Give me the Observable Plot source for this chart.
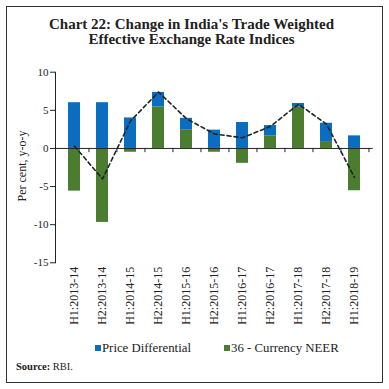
<!DOCTYPE html>
<html><head><meta charset="utf-8">
<script src="https://cdn.jsdelivr.net/npm/d3@7"></script>
<script src="https://cdn.jsdelivr.net/npm/@observablehq/plot@0.6"></script>
<style>
html,body{margin:0;padding:0;background:#fff;}
body{width:389px;height:389px;position:relative;overflow:hidden;font-family:"Liberation Serif",serif;color:#222;}
#frame{position:absolute;left:6px;top:6px;width:377px;height:377px;border:1px solid #333;box-sizing:border-box;}
#title{position:absolute;left:0;width:383px;top:17px;text-align:center;font-weight:bold;font-size:15px;line-height:15.2px;}
#chart{position:absolute;left:0;top:0;}
#ylab{position:absolute;left:22px;top:166px;transform:translate(-50%,-50%) rotate(-90deg);font-size:12px;white-space:nowrap;}
.leg{position:absolute;top:341px;font-size:12.8px;white-space:nowrap;line-height:15px;}
.sw{display:inline-block;width:6px;height:6px;margin-right:1px;vertical-align:1px;}
#source{position:absolute;left:16px;top:361px;font-size:10.5px;}
</style></head>
<body>
<div id="frame"></div>
<div id="title">Chart 22: Change in India's Trade Weighted<br>Effective Exchange Rate Indices</div>
<div id="chart"></div>
<div id="ylab">Per cent, y-o-y</div>
<div class="leg" style="left:95px"><span class="sw" style="background:#0b6dbf"></span>Price Differential</div>
<div class="leg" style="left:224px"><span class="sw" style="background:#4a7d2f"></span>36 - Currency NEER</div>
<div id="source"><b>Source:</b> RBI.</div>
<script>
const categories = ["H1:2013-14","H2:2013-14","H1:2014-15","H2:2014-15","H1:2015-16","H2:2015-16","H1:2016-17","H2:2016-17","H1:2017-18","H2:2017-18","H1:2018-19"];
const priceDiff = [6.0, 6.0, 4.0, 1.9, 1.5, 2.4, 3.4, 1.35, 0.5, 2.4, 1.65];
const neer = [-5.6, -9.7, -0.5, 5.45, 2.45, -0.5, -1.95, 1.65, 5.4, 0.9, -5.55];
const reer = [0.3, -4.0, 3.6, 7.4, 3.9, 1.9, 1.4, 2.9, 5.8, 3.2, -3.8];
const seriesNames = ["36 - Currency NEER", "Price Differential"];
const seriesColors = ["#4a7d2f", "#0b6dbf"];
const yTicks = [-15, -10, -5, 0, 5, 10];

const rows = [
  ...categories.map((c, i) => ({cat: c, series: seriesNames[0], value: neer[i]})),
  ...categories.map((c, i) => ({cat: c, series: seriesNames[1], value: priceDiff[i]}))
];
const lineData = categories.map((c, i) => ({cat: c, value: reer[i]}));

const W = 389, H = 389, mL = 55, mR = 16.3, mT = 71.7, mB = 126.7;
const step = (W - mL - mR) / categories.length;

const chart = Plot.plot({
  width: W, height: H,
  marginLeft: mL, marginRight: mR, marginTop: mT, marginBottom: mB,
  x: {domain: categories, paddingInner: 0.58, paddingOuter: 0.29, label: null},
  y: {domain: [-15, 10], label: null},
  color: {domain: seriesNames, range: seriesColors},
  style: {fontFamily: "Liberation Serif, serif", fontSize: "11px", color: "#222", background: "transparent"},
  marks: [
    Plot.barY(rows, {x: "cat", y: "value", fill: "series"}),
    Plot.ruleY([0], {stroke: "#222"}),
    Plot.ruleX(categories, {x: d => d, dx: step / 2, y1: 0, y2: -0.55, stroke: "#222"}),
    Plot.frame({anchor: "left", stroke: "#222"}),
    Plot.axisY({ticks: yTicks, tickSize: 5, tickPadding: 2, tickFormat: d => String(d), label: null}),
    Plot.axisX({tickRotate: -90, tickSize: 0, tickPadding: 4, label: null, fontSize: 12}),
    Plot.line(lineData, {x: "cat", y: "value", stroke: "#222", strokeWidth: 1.6, strokeDasharray: "4,3"})
  ]
});
document.getElementById("chart").appendChild(chart);
</script>
</body></html>
